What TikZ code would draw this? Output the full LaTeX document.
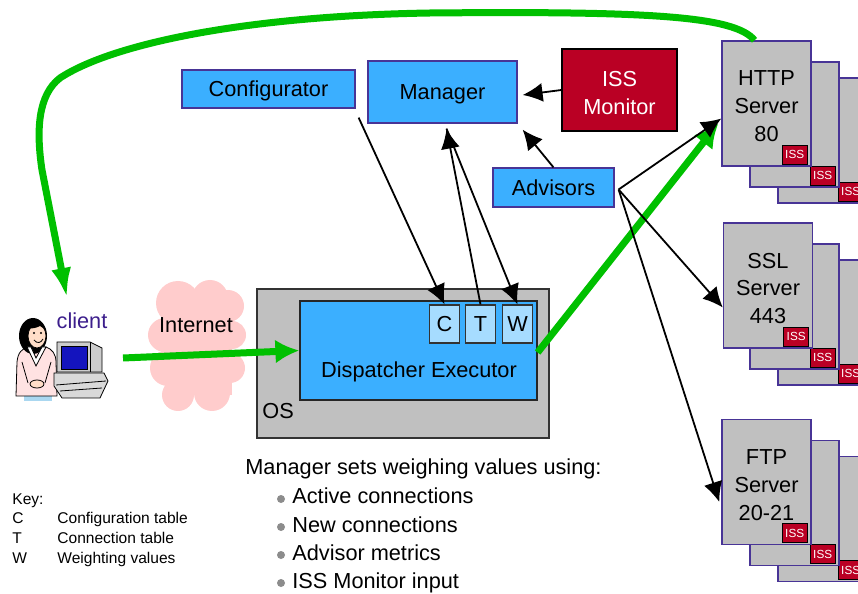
\documentclass[tikz,border=0pt]{standalone}
\usepackage{fontspec}
\setmainfont{Liberation Sans}
\usetikzlibrary{arrows.meta,calc}

\definecolor{boxblue}{RGB}{59,175,255}
\definecolor{tabblue}{RGB}{166,220,255}
\definecolor{boxedge}{RGB}{72,52,150}
\definecolor{issred}{RGB}{186,0,36}
\definecolor{srvgray}{RGB}{192,192,192}
\definecolor{netpink}{RGB}{255,204,204}
\definecolor{flowgreen}{RGB}{0,192,0}
\definecolor{clientpurple}{RGB}{60,30,140}
\definecolor{skin}{RGB}{255,222,200}
\definecolor{sweater}{RGB}{255,226,226}
\definecolor{skirt}{RGB}{170,215,240}
\definecolor{screen}{RGB}{20,20,190}

\tikzset{
  bluebox/.style={draw=boxedge,line width=0.6bp,fill=boxblue,inner sep=0pt,text height=7.8bp,text depth=0pt},
  tabbox/.style={draw=black!80,line width=0.6bp,fill=tabblue,minimum width=15bp,minimum height=19bp,inner sep=0pt,text height=7.8bp,text depth=0pt},
  osbox/.style={draw=black!80,line width=0.6bp,fill=srvgray,minimum width=146bp,minimum height=74.5bp},
  server/.style={draw=boxedge,line width=0.7bp,fill=srvgray,minimum width=44.5bp,minimum height=62.5bp,align=center,inner sep=0pt},
  isstag/.style={draw=black,line width=0.5bp,fill=issred,text=white,minimum width=12.5bp,minimum height=9.5bp,inner sep=0pt,font=\fontsize{5.9}{6}\selectfont},
  link/.style={line width=0.9bp,-{Latex[length=10bp,width=9.5bp]}},
  flow/.style={draw=flowgreen,line width=3.5bp,-{Latex[length=12bp,width=12bp]}},
  txt/.style={inner sep=0pt},
}

\begin{document}
\begin{tikzpicture}[x=0.5bp,y=-0.5bp,font=\fontsize{10.9}{14}\selectfont]
\useasboundingbox (0,0) rectangle (858,594);
\clip (0,0) rectangle (858,594);

% internet cloud
\fill[netpink] (165,305) rectangle (232,395);
\foreach \cx/\cy/\r in {178/303/22,210/298/18,228/306/16,165/335/17,232/335/14,
                        168/368/18,230/368/15,178/395/16,212/393/18}
  \fill[netpink] (\cx,\cy) circle[radius=\r];
\node[txt,anchor=base] (net) at (196,333) {Internet};

% client at her desk
\fill[skirt] (24,388) rectangle (52,401);
\filldraw[fill=sweater,line width=0.4bp] (16,396) -- (17,362) .. controls (18,352) and (22,349) .. (28,347)
  -- (46,347) .. controls (52,349) and (56,354) .. (56,362) -- (57,396) -- cycle;
\draw[line width=0.4bp] (22,362) -- (28,383);
\draw[line width=0.4bp] (51,362) -- (45,383);
\fill[black] (33,336) ellipse[x radius=14,y radius=18];
\filldraw[fill=skin,line width=0.4bp] (37,336) ellipse[x radius=9,y radius=12];
\fill[black] (28,328) .. controls (32,319) and (43,320) .. (46,330) -- (40,326) .. controls (36,328) and (32,329) .. (28,328);
\fill (34,333) circle[radius=1.2];
\fill (41,333) circle[radius=1.2];
\draw[line width=0.4bp] (34,340) .. controls (37,344) and (41,343) .. (43,339);
\filldraw[fill=white,line width=0.4bp] (27,347) -- (36,366) -- (46,347) -- (42,347) -- (36,358) -- (31,347) -- cycle;
\filldraw[fill=skin,line width=0.4bp] (37,384) ellipse[x radius=7,y radius=4];
\filldraw[fill=black!20,line width=0.4bp] (57,342) -- (90,342) -- (102,348) -- (102,372) -- (57,372) -- cycle;
\draw[line width=0.4bp] (90,342) -- (90,372);
\filldraw[fill=screen,line width=0.4bp] (61,346) rectangle (87,369);
\filldraw[fill=black!15,line width=0.4bp] (54,373) -- (104,373) -- (108,381) -- (100,398) -- (62,398) -- (54,386) -- cycle;
\draw[line width=0.4bp] (56,385) -- (106,381);
\draw[line width=0.4bp] (60,391) -- (102,388);
\node[txt,anchor=base,text=clientpurple] (clientlabel) at (82,329) {client};
\coordinate (pc) at (123,358);
\coordinate (clienttop) at (67,298);

% OS and dispatcher
\node[osbox] (os) at (403,363.5) {};
\node[bluebox,draw=black!85,minimum width=118.5bp,minimum height=49.5bp] (disp) at (418.5,350.5) {};
\node[txt,anchor=base] (disptext) at (419,378) {Dispatcher Executor};
\node[txt,anchor=base west] (ostext) at (262,419) {OS};
\node[tabbox] (ctab) at (444.5,324) {C};
\node[tabbox] (ttab) at (480.5,324) {T};
\node[tabbox] (wtab) at (517.5,324) {W};

% control side
\node[bluebox,minimum width=86.5bp,minimum height=19bp] (config) at (268.5,89) {Configurator};
\node[bluebox,minimum width=74.5bp,minimum height=31bp] (manager) at (442.5,92) {Manager};
\node[draw=black,line width=0.6bp,fill=issred,inner sep=0pt,
      minimum width=57.5bp,minimum height=41bp] (issmon) at (619.5,90) {};
\node[txt,text=white,align=center] (issmontext) at (619.5,93) {ISS\\Monitor};
\node[bluebox,minimum width=60.5bp,minimum height=19.5bp] (advisors) at (553.5,187.5) {Advisors};

% server stacks
\foreach \s/\sy in {http/103.5,ssl/285.5,ftp/482}{
  \foreach \d/\e in {56/37,28/21}{
    \node[server] (\s-\d) at (766.5+\d,\sy+\e) {};
    \node[isstag,anchor=south east] (\s-\d-tag) at ($(\s-\d.south east)+(-4,-2)$) {ISS};
  }
}
\node[server] (http) at (766.5,103.5) {};
\node[server] (ssl) at (768,285.5) {};
\node[server] (ftp) at (766.5,482) {};
\node[txt,align=center] (httptext) at (766.5,106.5) {HTTP\\Server\\80};
\node[txt,align=center] (ssltext) at (768,288.5) {SSL\\Server\\443};
\node[txt,align=center] (ftptext) at (766.5,485) {FTP\\Server\\20-21};
\foreach \s in {http,ssl,ftp}
  \node[isstag,anchor=south east] (\s-tag) at ($(\s.south east)+(-4,-2)$) {ISS};

% traffic
\draw[flow] (pc) -- (disp.west);
\draw[flow] ($(disp.east)+(0,2)$) -- ($(http.west)+(-3,20)$);
\draw[flow,-{Latex[length=15bp,width=10bp]}] ($(http.north)+(-12,0)$)
  .. controls (735,16) and (650,11) .. (430,13)
  .. controls (240,16) and (110,45) .. (60,78)
  .. controls (38,95) and (36,130) .. (42,170) -- (clienttop);

% control flow
\draw[link] (issmon.west) -- ($(manager.east)+(5,3)$);
\draw[link] (advisors.north) -- ($(manager.south east)+(5,6)$);
\draw[link] ($(config.south east)+(3,9)$) -- (ctab.north);
\coordinate (mgrfoot) at ($(manager.south)+(4,5)$);
\draw[link] (ttab.north) -- (mgrfoot);
\draw[link] (mgrfoot) -- (wtab.north);
\coordinate (fan) at ($(advisors.east)+(4,2)$);
\draw[link] (fan) -- ($(http.west)+(0,15)$);
\draw[link] (fan) -- ($(ssl.west)+(0,22)$);
\draw[link] (fan) -- ($(ftp.west)+(-2,20)$);

% weighting notes
\node[txt,anchor=base west] (weights) at (245,474) {Manager sets weighing values using:};
\foreach \t [count=\i] in {Active connections,New connections,Advisor metrics,ISS Monitor input}{
  \fill[black!45] (281,499+28*\i-28) circle[radius=4];
  \node[txt,anchor=base west] (item\i) at (292,504+28*\i-28) {\t};
}

% key
\begin{scope}[font=\fontsize{7.8}{9}\selectfont]
\node[txt,anchor=base west] (key) at (12,505) {Key:};
\foreach \k/\v/\y in {C/Configuration table/523,T/Connection table/543,W/Weighting values/563}{
  \node[txt,anchor=base west] (key\k) at (12,\y) {\k};
  \node[txt,anchor=base west] (val\k) at (57,\y) {\v};
}
\end{scope}
\end{tikzpicture}
\end{document}
